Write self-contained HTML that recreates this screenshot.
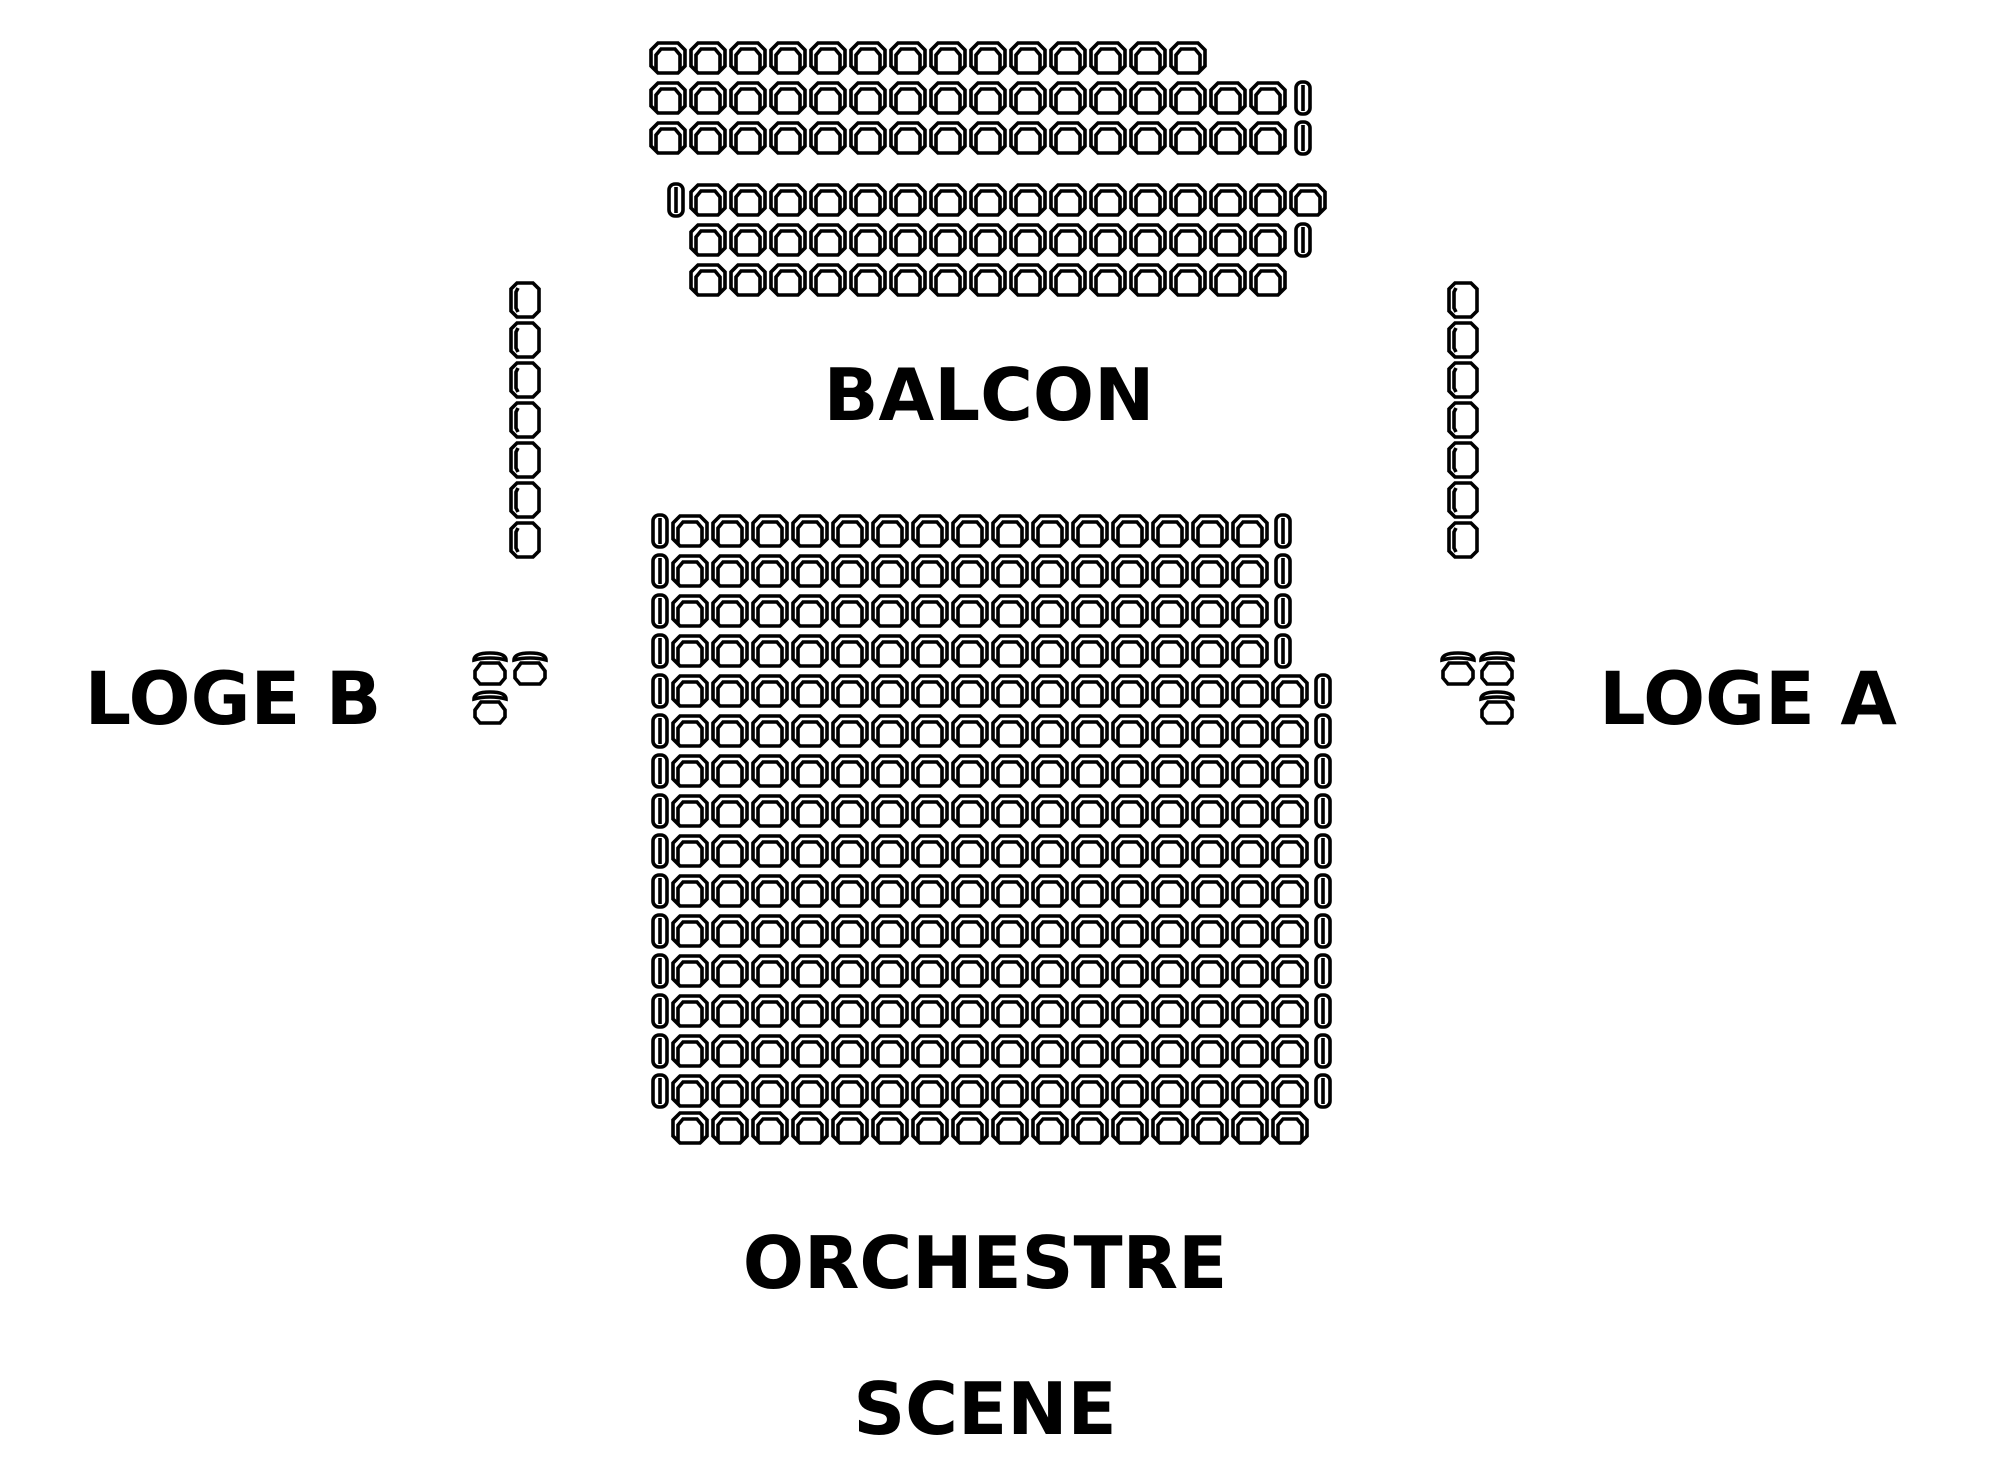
<!DOCTYPE html>
<html><head><meta charset="utf-8"><style>
html,body{margin:0;padding:0;background:#fff}
svg{display:block}
text{font-family:"DejaVu Sans","Liberation Sans",sans-serif;font-weight:bold;fill:#000;text-anchor:middle}
</style></head><body>
<svg id="s" width="2000" height="1480" viewBox="0 0 2000 1480" xmlns="http://www.w3.org/2000/svg">
<defs>
<g id="h" fill="none" stroke="#000" stroke-width="3.6">
<path d="M-10,-15 H10 L17,-8 V8 L10,15 H-10 L-17,8 V-8 Z"/>
<path d="M-12,13 V-3 L-7,-9 H7 L12,-3 V13"/>
</g>
<g id="p" fill="none" stroke="#000" stroke-width="3.6">
<rect x="-7" y="-16" width="14" height="32" rx="6"/>
<line x1="0" y1="-13" x2="0" y2="13"/>
</g>
<g id="v" fill="none" stroke="#000" stroke-width="3.6">
<path d="M-8,-17 H8 L14,-11 V11 L8,17 H-8 L-14,11 V-11 Z"/>
<path d="M-7,-12 L-9,-8 V8 L-7,12"/>
</g>
<g id="t" fill="none" stroke="#000" stroke-width="3.6">
<path d="M-16,-9 Q-16,-16 0,-16 Q16,-16 16,-9 Q9,-11 0,-11 Q-9,-11 -16,-9 Z"/>
<path d="M-9,-6 L-15,2 V9 L-10,15 H10 L15,9 V2 L9,-6 Z"/>
</g>
</defs>
<g id="seats"></g>
<text x="989" y="420" font-size="72">BALCON</text>
<text x="233" y="724" font-size="73">LOGE B</text>
<text x="1748" y="724" font-size="73">LOGE A</text>
<text x="985" y="1288" font-size="72">ORCHESTRE</text>
<text x="985" y="1434" font-size="72">SCENE</text>
</svg>
<script>
var g=document.getElementById('seats'),out='';
function u(id,x,y){out+='<use href="#'+id+'" x="'+x+'" y="'+y+'"/>';}
function row(x0,y,n){for(var i=0;i<n;i++)u('h',x0+i*40,y);}
row(668,58,14);
row(668,98,16);u('p',1303,98);
row(668,138,16);u('p',1303,138);
u('p',676,200);row(708,200,16);
row(708,240,15);u('p',1303,240);
row(708,280,15);
for(var r=0;r<15;r++){var y=531+r*40;u('p',660,y);
 if(r<4){row(690,y,15);u('p',1283,y);}else{row(690,y,16);u('p',1323,y);}}
row(690,1128,16);
for(var i=0;i<7;i++){u('v',525,300+i*40);u('v',1463,300+i*40);}
u('t',490,669);u('t',530,669);u('t',490,708);
u('t',1458,669);u('t',1497,669);u('t',1497,708);
g.innerHTML=out;
</script>
</body></html>
